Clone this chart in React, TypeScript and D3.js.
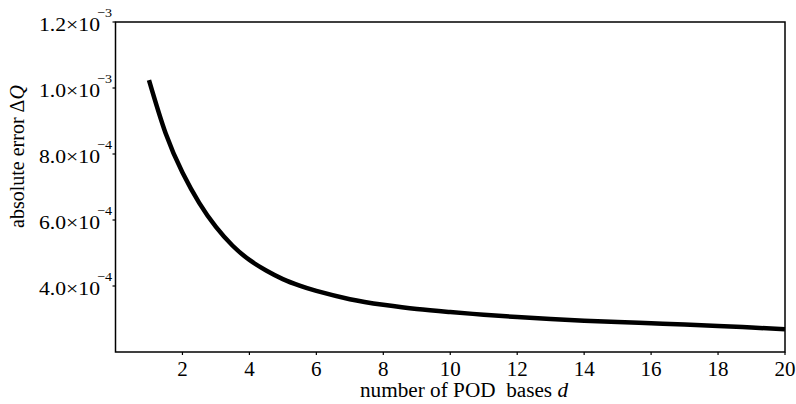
import React from "react";
import * as d3 from "d3";

const basesD = [1, 1.5, 2, 2.5, 3, 3.5, 4, 4.5, 5, 5.5, 6, 7, 8, 9, 10, 11, 12, 13, 14, 15, 16, 17, 18, 19, 20];
const errorQ = [
  1.024e-3, 8.62e-4, 7.44e-4, 6.52e-4, 5.79e-4, 5.22e-4, 4.79e-4, 4.47e-4, 4.21e-4, 4.01e-4,
  3.85e-4, 3.6e-4, 3.43e-4, 3.3e-4, 3.21e-4, 3.13e-4, 3.06e-4, 3.0e-4, 2.95e-4, 2.91e-4,
  2.87e-4, 2.83e-4, 2.79e-4, 2.74e-4, 2.69e-4,
];
const xTicks = [2, 4, 6, 8, 10, 12, 14, 16, 18, 20];
const yTicks = [4e-4, 6e-4, 8e-4, 1.0e-3, 1.2e-3];
const yTickMant = ["4.0", "6.0", "8.0", "1.0", "1.2"];
const yTickExp = ["−4", "−4", "−4", "−3", "−3"];

const W = 796;
const H = 404;
const left = 115.5;
const right = 785;
const top = 22;
const bottom = 352;

export default function App() {
  const x = d3.scaleLinear().domain([0, 20]).range([left, right]);
  const y = d3.scaleLinear().domain([2e-4, 1.2e-3]).range([bottom, top]);
  const pts = basesD.map((d, i) => [d, errorQ[i]] as [number, number]);
  const line = d3
    .line<[number, number]>()
    .x((p) => x(p[0]))
    .y((p) => y(p[1]))
    .curve(d3.curveNatural);
  const font = "'Liberation Serif', 'Times New Roman', serif";
  return (
    <svg
      width={W}
      height={H}
      style={{ position: "absolute", left: 0, top: 0, background: "#fff" }}
      fontFamily={font}
    >
      <rect x={0} y={0} width={W} height={H} fill="#fff" />
      <path d={line(pts) || ""} fill="none" stroke="#000" strokeWidth={4.5} strokeLinecap="butt" />
      <rect x={left} y={top} width={right - left} height={bottom - top} fill="none" stroke="#000" strokeWidth={1.5} />
      {xTicks.map((t) => (
        <g key={"x" + t}>
          <line x1={x(t)} x2={x(t)} y1={bottom} y2={bottom + 3} stroke="#000" strokeWidth={1.2} />
          <text x={x(t)} y={376} textAnchor="middle" fontSize={21} fill="#000">
            {t}
          </text>
        </g>
      ))}
      {yTicks.map((t, i) => (
        <g key={"y" + t}>
          <line x1={left - 3} x2={left} y1={y(t)} y2={y(t)} stroke="#000" strokeWidth={1.2} />
          <text
            x={39}
            y={y(t) + 9}
            textAnchor="start"
            fontSize={19}
            fill="#000"
            textLength={61}
            lengthAdjust="spacingAndGlyphs"
          >
            {yTickMant[i]}×10
          </text>
          <text
            x={97}
            y={y(t) - 5}
            textAnchor="start"
            fontSize={13}
            fill="#000"
            textLength={15}
            lengthAdjust="spacingAndGlyphs"
          >
            {yTickExp[i]}
          </text>
        </g>
      ))}
      <text x={464} y={397} textAnchor="middle" fontSize={20} fill="#000" style={{ whiteSpace: "pre" }}
        textLength={208} lengthAdjust="spacingAndGlyphs">
        {"number of POD  bases "}
        <tspan fontStyle="italic">d</tspan>
      </text>
      <text
        transform={`translate(24, 156.5) rotate(-90)`}
        textAnchor="middle"
        fontSize={20}
        fill="#000"
      >
        {"absolute error Δ"}
        <tspan fontStyle="italic">Q</tspan>
      </text>
    </svg>
  );
}
